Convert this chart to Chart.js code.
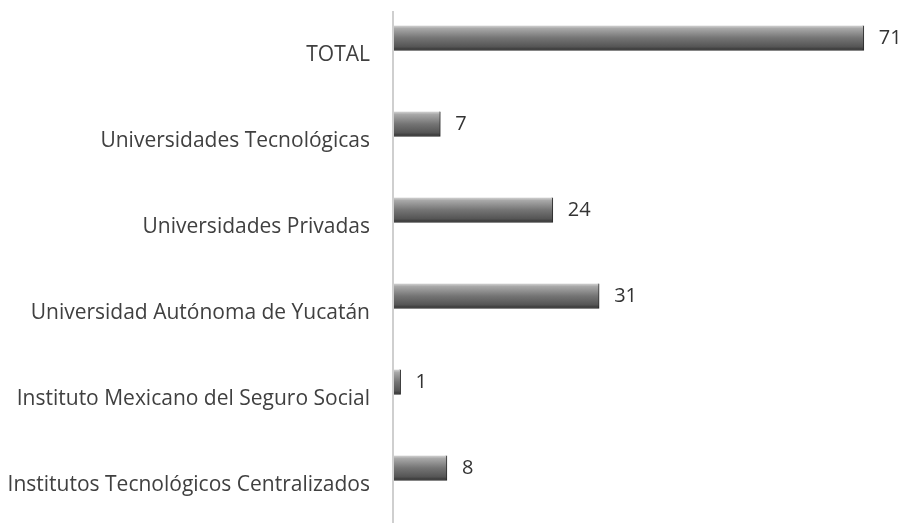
<!DOCTYPE html>
<html>
<head>
<meta charset="utf-8">
<script src="https://cdn.jsdelivr.net/npm/chart.js@4/dist/chart.umd.min.js"></script>
<style>
  html, body { margin: 0; padding: 0; background: #fff; overflow: hidden; }
  #wrap { width: 907px; height: 523px; position: relative; }
</style>
</head>
<body>
<div id="wrap"><canvas id="chart"></canvas></div>
<script>
const categories = [
  "TOTAL",
  "Universidades Tecnológicas",
  "Universidades Privadas",
  "Universidad Autónoma de Yucatán",
  "Instituto Mexicano del Seguro Social",
  "Institutos Tecnológicos Centralizados"
]
const values = [71, 7, 24, 31, 1, 8]

const FONT = "'Open Sans', 'Noto Sans', sans-serif"
const BAR = 25

// vertical gradient so each bar looks like the beveled Excel bar
function barFill(ctx) {
  const chart = ctx.chart
  const yScale = chart.scales.y
  if (!yScale || ctx.dataIndex === undefined) return "#6e6e6e"
  const yc = yScale.getPixelForValue(ctx.dataIndex)
  if (!isFinite(yc)) return "#6e6e6e"
  const g = chart.ctx.createLinearGradient(0, yc - BAR / 2, 0, yc + BAR / 2)
  g.addColorStop(0, "#d4d4d4")
  g.addColorStop(0.12, "#a8a8a8")
  g.addColorStop(0.5, "#747474")
  g.addColorStop(0.85, "#555555")
  g.addColorStop(1, "#2e2e2e")
  return g
}

const axisLine = {
  id: "axisLine",
  beforeDatasetsDraw(chart) {
    const c = chart.ctx
    const x = chart.chartArea.left
    c.save()
    c.strokeStyle = "#cfcfcf"
    c.lineWidth = 2
    c.beginPath()
    c.moveTo(x - 1, 11)
    c.lineTo(x - 1, 523)
    c.stroke()
    c.restore()
  }
}

const valueLabels = {
  id: "valueLabels",
  afterDatasetsDraw(chart) {
    const c = chart.ctx
    const meta = chart.getDatasetMeta(0)
    c.save()
    c.font = "20px " + FONT
    c.fillStyle = "#333333"
    c.textAlign = "left"
    c.textBaseline = "middle"
    meta.data.forEach((bar, i) => {
      c.fillText(String(values[i]), bar.x + 15, bar.y)
    })
    c.restore()
  }
}

new Chart(document.getElementById("chart"), {
  type: "bar",
  data: {
    labels: categories,
    datasets: [
      {
        data: values,
        backgroundColor: barFill,
        borderColor: "#2a2a2a",
        borderWidth: { top: 0, left: 0, right: 1, bottom: 1 },
        borderSkipped: false,
        barThickness: BAR,
        clip: false,
      },
    ],
  },
  options: {
    indexAxis: "y",
    responsive: true,
    maintainAspectRatio: false,
    animation: false,
    layout: { padding: { top: 38, bottom: 55, left: 0, right: 20 } },
    plugins: {
      legend: { display: false },
      tooltip: { enabled: false },
    },
    scales: {
      x: {
        display: false,
        min: 0,
        max: 74.5,
      },
      y: {
        offset: false,
        grid: { display: false },
        border: { display: false },
        afterFit(scale) {
          scale.width = 394
        },
        ticks: {
          padding: 16,
          labelOffset: 17,
          color: "#404040",
          font: { family: FONT, size: 21 },
        },
      },
    },
  },
  plugins: [axisLine, valueLabels],
})
</script>
</body>
</html>
